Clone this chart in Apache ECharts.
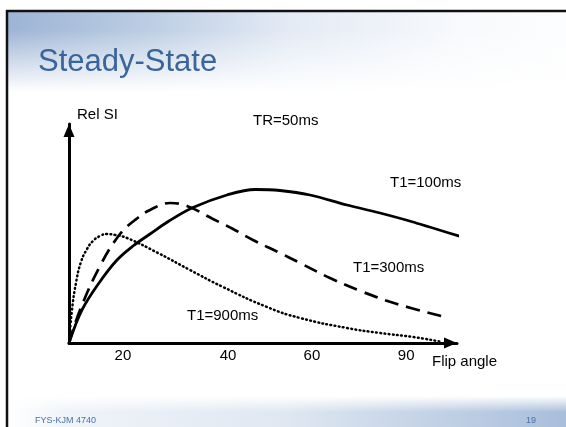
<!DOCTYPE html>
<html>
<head>
<meta charset="utf-8">
<script src="https://cdn.jsdelivr.net/npm/echarts@6/dist/echarts.min.js"></script>
<style>
html,body{margin:0;padding:0;background:#fff;}
#chart{width:566px;height:427px;}
</style>
</head>
<body>
<div id="chart"></div>
<script>
// Axis units: x 0..100 (origin to arrow tip), y 0..100 (origin to arrow tip)
const xTickPositions = [13.9, 41.0, 62.6, 86.9];
const xTickLabels = ['20', '40', '60', '90'];

const t1_100_x = [0, 3.35, 7.73, 12.37, 16.49, 20.88, 25.77, 31.96, 40.72, 48.0, 54.38, 62.11, 71.65, 80.15, 88.66, 101.29];
const t1_100_y = [0, 15.07, 27.40, 37.90, 44.29, 49.77, 55.71, 61.87, 67.58, 70.09, 69.63, 67.58, 63.01, 59.36, 55.25, 48.40];

const t1_300_x = [0, 2.84, 7.99, 13.14, 17.01, 20.88, 26.03, 30.41, 37.11, 42.27, 47.42, 54.38, 59.54, 67.27, 75.77, 84.54, 96.91];
const t1_300_y = [0, 15.07, 35.16, 49.77, 56.16, 60.73, 63.93, 62.56, 56.62, 52.05, 47.03, 41.10, 36.53, 29.68, 23.29, 17.81, 11.87];

const t1_900_x = [0, 0.77, 1.80, 3.09, 4.64, 6.19, 7.99, 9.79, 11.86, 14.95, 22.94, 31.19, 39.69, 51.03, 59.54, 71.65, 80.15, 88.66, 95.62];
const t1_900_y = [0, 15.07, 27.40, 36.99, 42.92, 46.58, 48.86, 49.77, 49.32, 47.95, 41.10, 33.33, 25.57, 16.44, 11.42, 6.85, 4.57, 2.74, 0.68];

const zip = (xs, ys) => xs.map((x, i) => [x, ys[i]]);

const chart = echarts.init(document.getElementById('chart'), null, {renderer: 'canvas'});

const FONT = '"Liberation Sans", Arial, sans-serif';

const axisLineCommon = {
  show: true,
  lineStyle: {color: '#000', width: 3},
  symbol: ['none', 'triangle'],
  symbolSize: [11, 13],
  symbolOffset: [0, -6.5]
};

chart.setOption({
  animation: false,
  backgroundColor: '#ffffff',
  graphic: [
    // top header band
    {type: 'rect', z: -10, shape: {x: 8, y: 12, width: 558, height: 80},
      style: {fill: new echarts.graphic.LinearGradient(0, 0, 1, 0.25, [
        {offset: 0, color: '#9db4d5'},
        {offset: 0.25, color: '#bccde3'},
        {offset: 0.5, color: '#e3eaf4'},
        {offset: 0.8, color: '#f7f9fc'},
        {offset: 1, color: '#fcfdfe'}
      ])}},
    {type: 'rect', z: -9, shape: {x: 8, y: 30, width: 558, height: 62},
      style: {fill: new echarts.graphic.LinearGradient(0, 0, 0, 1, [
        {offset: 0, color: 'rgba(255,255,255,0)'},
        {offset: 1, color: 'rgba(255,255,255,1)'}
      ])}},
    // footer band
    {type: 'rect', z: -10, shape: {x: 8, y: 396, width: 558, height: 31},
      style: {fill: new echarts.graphic.LinearGradient(0, 0, 1, 0, [
        {offset: 0, color: '#ffffff'},
        {offset: 0.1, color: '#f0f4f9'},
        {offset: 0.5, color: '#dfe7f1'},
        {offset: 1, color: '#a9bedb'}
      ])}},
    {type: 'rect', z: -9, shape: {x: 8, y: 396, width: 558, height: 16},
      style: {fill: new echarts.graphic.LinearGradient(0, 0, 0, 1, [
        {offset: 0, color: 'rgba(255,255,255,1)'},
        {offset: 1, color: 'rgba(255,255,255,0)'}
      ])}},
    // slide border
    {type: 'line', z: 5, shape: {x1: 7, y1: 10, x2: 7, y2: 427}, style: {stroke: '#111', lineWidth: 2.5}},
    {type: 'line', z: 5, shape: {x1: 6, y1: 11, x2: 566, y2: 11}, style: {stroke: '#111', lineWidth: 2.5}},
    // title
    {type: 'text', z: 10, x: 38, y: 62,
      style: {text: 'Steady-State', fill: '#3a6599', font: '31px ' + FONT, verticalAlign: 'middle', align: 'left'}},
    // footer texts
    {type: 'text', z: 10, x: 35, y: 421,
      style: {text: 'FYS-KJM 4740', fill: '#4a71a8', font: '9px ' + FONT, verticalAlign: 'middle', align: 'left'}},
    {type: 'text', z: 10, x: 536, y: 421,
      style: {text: '19', fill: '#4a71a8', font: '9px ' + FONT, verticalAlign: 'middle', align: 'right'}},
    // chart annotations
    {type: 'text', z: 10, x: 77, y: 115,
      style: {text: 'Rel SI', fill: '#000', font: '15px ' + FONT, verticalAlign: 'middle', align: 'left'}},
    {type: 'text', z: 10, x: 253, y: 121,
      style: {text: 'TR=50ms', fill: '#000', font: '15px ' + FONT, verticalAlign: 'middle', align: 'left'}},
    {type: 'text', z: 10, x: 390, y: 183,
      style: {text: 'T1=100ms', fill: '#000', font: '15px ' + FONT, verticalAlign: 'middle', align: 'left'}},
    {type: 'text', z: 10, x: 353, y: 268,
      style: {text: 'T1=300ms', fill: '#000', font: '15px ' + FONT, verticalAlign: 'middle', align: 'left'}},
    {type: 'text', z: 10, x: 187, y: 316,
      style: {text: 'T1=900ms', fill: '#000', font: '15px ' + FONT, verticalAlign: 'middle', align: 'left'}},
    {type: 'text', z: 10, x: 432, y: 362,
      style: {text: 'Flip angle', fill: '#000', font: '15px ' + FONT, verticalAlign: 'middle', align: 'left'}}
  ],
  grid: {left: 69, right: 109, top: 124, bottom: 84, containLabel: false},
  xAxis: {
    type: 'value', min: 0, max: 100,
    axisLine: axisLineCommon,
    axisTick: {show: false},
    splitLine: {show: false},
    axisLabel: {
      show: true,
      customValues: xTickPositions,
      margin: 5,
      color: '#000',
      fontSize: 15,
      fontFamily: FONT,
      formatter: function (v) {
        let best = 0, bd = Infinity;
        xTickPositions.forEach((p, i) => { const d = Math.abs(p - v); if (d < bd) { bd = d; best = i; } });
        return xTickLabels[best];
      }
    }
  },
  yAxis: {
    type: 'value', min: 0, max: 100,
    axisLine: axisLineCommon,
    axisTick: {show: false},
    splitLine: {show: false},
    axisLabel: {show: false}
  },
  series: [
    {name: 'T1=100ms', type: 'line', data: zip(t1_100_x, t1_100_y), smooth: 0.35, showSymbol: false, clip: false,
      lineStyle: {color: '#000', width: 2.8, type: 'solid'}},
    {name: 'T1=300ms', type: 'line', data: zip(t1_300_x, t1_300_y), smooth: 0.4, showSymbol: false, clip: false,
      lineStyle: {color: '#000', width: 2.7, type: [14, 8]}},
    {name: 'T1=900ms', type: 'line', data: zip(t1_900_x, t1_900_y), smooth: 0.5, showSymbol: false, clip: false,
      lineStyle: {color: '#000', width: 2.5, type: [0.8, 3.4], cap: 'round'}}
  ]
});
</script>
</body>
</html>
